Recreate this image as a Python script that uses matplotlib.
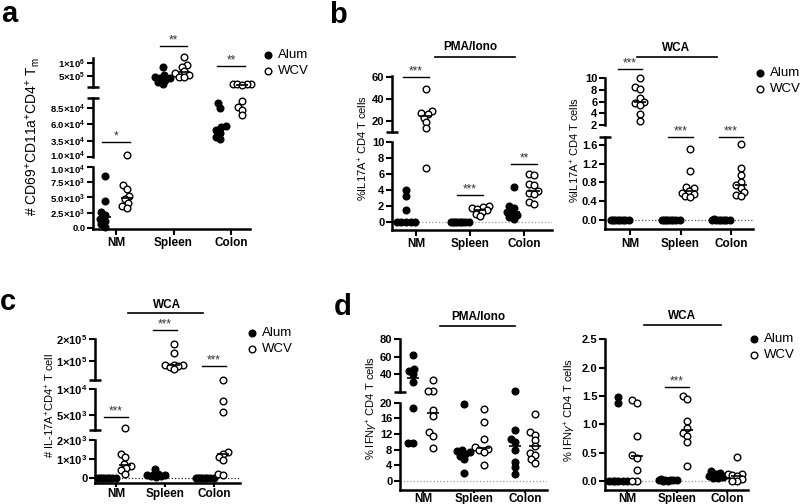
import numpy as np
import matplotlib
matplotlib.use('Agg')
import matplotlib.pyplot as plt
from matplotlib.lines import Line2D
from matplotlib.transforms import ScaledTranslation

plt.rcParams['font.family'] = ['Liberation Sans', 'DejaVu Sans']
plt.rcParams['mathtext.fontset'] = 'custom'
plt.rcParams['mathtext.rm'] = 'Liberation Sans'
plt.rcParams['mathtext.it'] = 'Liberation Sans:italic'
plt.rcParams['mathtext.bf'] = 'Liberation Sans:bold'

## data
groups = ['NM', 'Spleen', 'Colon']

# a : # CD69+CD11a+CD4+ Tm
a_alum = [[8.6e3, 4.4e3, 2.7e3, 2.2e3, 1.5e3, 1.2e3, 0.6e3, 0.1e3],
          [8.5e5, 5.5e5, 4.8e5, 4.4e5, 4.2e5, 3.5e5, 2.5e5, 1.8e5],
          [9.2e4, 8.5e4, 5.8e4, 5.5e4, 5.1e4, 4.6e4, 4.1e4, 3.7e4]]
a_wcv = [[1.3e4, 7.0e3, 6.4e3, 5.2e3, 4.7e3, 4.1e3, 3.6e3, 3.3e3],
         [1.22e6, 9.2e5, 8.5e5, 6.8e5, 6.0e5, 5.2e5, 4.8e5, 4.6e5],
         [2.0e5, 1.9e5, 1.8e5, 1.8e5, 1.7e5, 9.5e4, 8.7e4, 8.2e4, 7.4e4]]
a_sig = [(0, 3.3e4, '*'), (1, 1.65e6, '**'), (2, 8.8e5, '**')]

# b : %IL17A+ CD4 T cells, PMA/Iono
b1_alum = [[4.0, 3.2, 1.5, 0, 0, 0, 0, 0],
           [0, 0, 0, 0, 0, 0, 0, 0],
           [4.4, 2.0, 1.8, 1.3, 1.1, 0.9, 0.6, 0.4]]
b1_wcv = [[49, 29, 27, 26, 23, 19, 13.5, 6.7],
          [2.0, 1.9, 1.8, 1.6, 1.5, 1.3, 1.0, 0.7],
          [6.0, 5.9, 4.8, 4.6, 3.9, 3.6, 3.5, 2.5, 2.3]]
b1_sig = [(0, 59.5, '***'), (1, 3.4, '***'), (2, 7.25, '**')]

# b : %IL17A+ CD4 T cells, WCA
b2_alum = [[0, 0, 0, 0, 0, 0, 0, 0],
           [0, 0, 0, 0, 0, 0, 0, 0],
           [0.03, 0, 0, 0, 0, 0, 0, 0]]
b2_wcv = [[10.0, 8.4, 8.1, 6.6, 6.0, 5.7, 5.4, 3.9, 2.7],
          [1.52, 1.04, 0.70, 0.68, 0.62, 0.58, 0.56, 0.50, 0.48],
          [1.62, 1.10, 0.96, 0.82, 0.74, 0.68, 0.60, 0.53, 0.52]]
b2_sig = [(0, 11.5, '***'), (1, 1.77, '***'), (2, 1.77, '***')]

# c : # IL-17A+CD4+ T cell, WCA
c_alum = [[0, 0, 0, 0, 0, 0, 0, 0],
          [470, 250, 200, 180, 150, 120, 100, 50],
          [0, 0, 0, 0, 0, 0, 0, 0]]
c_wcv = [[2.4e3, 1.25e3, 1.1e3, 750, 620, 520, 420, 250],
         [1.8e5, 1.35e5, 8.2e4, 8.0e4, 7.8e4, 7.6e4, 7.2e4, 6.0e4],
         [1.2e4, 7.7e3, 5.5e3, 1.35e3, 1.25e3, 1.1e3, 950, 220, 150]]
c_sig = [(0, 4.7e3, '***'), (1, 2.43e5, '***'), (2, 7.7e4, '***')]

# d : % IFNg+ CD4 T cells, PMA/Iono
d1_alum = [[61.8, 46, 43.7, 40.3, 31, 18.6, 9.7, 9.8],
           [19.7, 7.8, 7.6, 7.4, 7.0, 6.5, 5.6, 2.1],
           [21.0, 13.1, 10.6, 10.0, 7.9, 4.9, 3.6, 1.8]]
d1_wcv = [[33.6, 21.1, 21.1, 18.2, 16.5, 12.4, 11.6, 8.4],
          [18.4, 15.0, 10.6, 8.6, 8.3, 7.8, 7.4, 4.0],
          [17.0, 12.4, 11.8, 10.4, 9.0, 7.2, 6.6, 5.5, 4.7]]

# d : % IFNg+ CD4 T cells, WCA
d2_alum = [[1.49, 1.37, 0, 0, 0, 0, 0, 0],
           [0.03, 0.02, 0.02, 0.01, 0.01, 0.01, 0, 0],
           [0.17, 0.14, 0.12, 0.10, 0.08, 0.07, 0.06, 0.05]]
d2_wcv = [[1.42, 1.37, 0.79, 0.46, 0.41, 0.19, 0, 0],
          [1.50, 1.44, 1.06, 0.94, 0.85, 0.79, 0.68, 0.26],
          [0.43, 0.13, 0.12, 0.10, 0.09, 0.03, 0, 0]]
d2_sig = [(1, 1.66, '***')]


def sci(m, e):
    return r'$\mathbf{%s{\times}10^{%d}}$' % (m, e)


W, H = 800, 504
fig = plt.figure(figsize=(W / 100, H / 100), dpi=100)
OFF = 0.19


def panel(x0, x1, xlim, segs, zero=None, tsize=8, xtick=4, xpad=2, nudge=0):
    axes, lims = [], []
    n = len(segs)
    for k, (yt, yb, lim, ticks, labels) in enumerate(segs):
        ax = fig.add_axes([x0 / W, 1 - yb / H, (x1 - x0) / W, (yb - yt) / H])
        ax.set_xlim(xlim)
        ax.set_ylim(lim)
        ax.patch.set_visible(False)
        ax.spines[['top', 'right']].set_visible(False)
        ax.spines['left'].set_linewidth(1.8)
        ax.set_yticks(ticks, labels, fontsize=tsize, fontweight='bold')
        ax.tick_params(axis='y', length=4, width=1.5, pad=1.5)
        # labels sitting on a break are pushed slightly away from it
        if nudge:
            for t, lab in zip(ticks, ax.get_yticklabels()):
                dy = 0
                if k > 0 and t == lim[1]:
                    dy = -nudge
                if k < n - 1 and t == lim[0]:
                    dy = nudge
                if dy:
                    lab.set_transform(lab.get_transform() +
                                      ScaledTranslation(0, dy / 72, fig.dpi_scale_trans))
        caps = []
        if k > 0:
            caps.append(lim[1])
        if k < n - 1:
            caps.append(lim[0])
        ax.set_yticks(caps, minor=True)
        ax.tick_params(axis='y', which='minor', direction='inout', length=8, width=1.8)
        if k < n - 1:
            ax.spines['bottom'].set_visible(False)
            ax.set_xticks([])
        else:
            ax.spines['bottom'].set_linewidth(1.8)
            ax.set_xticks(range(3), groups, fontsize=8.5, fontweight='bold')
            ax.tick_params(axis='x', length=xtick, width=1.5, pad=xpad)
        axes.append(ax)
        lims.append(lim)
    if zero:
        axes[-1].axhline(0, ls=':', color=zero, lw=0.9, zorder=1)
    return axes, lims


def pick(lims, v):
    for k in range(len(lims) - 1, -1, -1):
        if lims[k][0] <= v <= lims[k][1]:
            return k
    return 0


def swarm(py, d=5.0, wmax=9.0):
    order = np.argsort(py)
    cand = sorted(np.arange(-wmax, wmax + 0.01, 0.5), key=abs)
    placed = []
    offs = np.zeros(len(py))
    for i in order:
        best, bestd = 0.0, -1.0
        for c in cand:
            md = min([np.hypot(c - ox, py[i] - oy) for ox, oy in placed], default=99)
            if md >= d:
                best = c
                break
            if md > bestd:
                best, bestd = c, md
        offs[i] = best
        placed.append((best, py[i]))
    return offs


def group(axes, lims, xc, vals, filled):
    vals = np.asarray(vals, float)
    seg = [pick(lims, v) for v in vals]
    py = np.array([axes[s].transData.transform((xc, v))[1] for s, v in zip(seg, vals)])
    offs = swarm(py)
    ax0 = axes[-1]
    ppu = ax0.transData.transform((1, 0))[0] - ax0.transData.transform((0, 0))[0]
    for s, v, o in zip(seg, vals, offs):
        axes[s].plot(xc + o / ppu, v, 'o', ms=4.8, mfc='k' if filled else 'white',
                     mec='k', mew=1.0, clip_on=False, zorder=3)
    med = np.median(vals)
    s = pick(lims, med)
    axes[s].plot([xc - 6 / ppu, xc + 6 / ppu], [med, med], color='k', lw=1.2,
                 zorder=4, clip_on=False, solid_capstyle='butt')


def fill(axes, lims, alum, wcv, sig=()):
    for i in range(3):
        group(axes, lims, i - OFF, alum[i], True)
        group(axes, lims, i + OFF, wcv[i], False)
    for i, y, txt in sig:
        ax = axes[pick(lims, y)]
        ax.plot([i - 0.24, i + 0.24], [y, y], color='k', lw=1.0, clip_on=False)
        ax.annotate(txt, (i, y), xytext=(0, -0.5), textcoords='offset points',
                    ha='center', va='bottom', fontsize=8.5, color='#333333',
                    annotation_clip=False)


def P(x, y):
    return x / W, 1 - y / H


def header(txt, xc, yt, xa, xb, yl):
    fig.text(*P(xc, yt), txt, ha='center', va='center', fontsize=8.5, fontweight='bold')
    fig.add_artist(Line2D([xa / W, xb / W], [1 - yl / H] * 2, color='k', lw=1.2,
                          transform=fig.transFigure))


def legend(x, y):
    for k, (lab, fc) in enumerate([('Alum', 'k'), ('WCV', 'white')]):
        xx, yy = P(x, y + 16 * k)
        fig.add_artist(Line2D([xx], [yy], marker='o', ms=4.8, mfc=fc, mec='k', mew=1.0,
                              transform=fig.transFigure))
        fig.text(xx + 10 / W, yy, lab, fontsize=9.5, va='center')


def ylabel(txt, x, y, size=8):
    fig.text(*P(x, y), txt, rotation=90, ha='center', va='center', fontsize=size)


## panel a
ax_a, lim_a = panel(93, 250, (-0.40, 2.33), [
    (58, 87, (7.69e4, 1.192e6), [5e5, 1e6], [sci('5', 5), sci('1', 6)]),
    (98, 157, (1e4, 1e5), [1e4, 3.5e4, 6e4, 8.5e4],
     [sci('1.0', 4), sci('3.5', 4), sci('6.0', 4), sci('8.5', 4)]),
    (167, 229, (-164, 1e4), [0, 2.5e3, 5e3, 7.5e3, 1e4],
     ['0.0', sci('2.5', 3), sci('5.0', 3), sci('7.5', 3), sci('1.0', 4)]),
], tsize=6.8, nudge=1.2)
fill(ax_a, lim_a, a_alum, a_wcv, a_sig)
ylabel(r'# CD69$^{+}$CD11a$^{+}$CD4$^{+}$ T$_{\mathrm{m}}$', 33, 137, 10)
legend(268, 55)

## panel b, PMA/Iono
ax_b1, lim_b1 = panel(392, 552, (-0.444, 2.52), [
    (76, 132, (10, 60.6), [20, 40, 60], ['20', '40', '60']),
    (142, 230, (-1, 10), [0, 2, 4, 6, 8, 10], ['0', '2', '4', '6', '8', '10']),
], zero='#999999')
fill(ax_b1, lim_b1, b1_alum, b1_wcv, b1_sig)
ylabel(r'%IL17A$^{+}$ CD4 T cells', 363, 148)
header('PMA/Iono', 470, 47, 435, 515, 57)

## panel b, WCA
ax_b2, lim_b2 = panel(605, 753, (-0.495, 2.435), [
    (78, 125, (2, 10), [2, 4, 6, 8, 10], ['2', '4', '6', '8', '10']),
    (136.7, 229.3, (-0.2, 1.776), [0, 0.4, 0.8, 1.2, 1.6], ['0.0', '0.4', '0.8', '1.2', '1.6']),
], zero='#555555')
fill(ax_b2, lim_b2, b2_alum, b2_wcv, b2_sig)
ylabel(r'%IL17A$^{+}$ CD4 T cells', 575, 150)
header('WCA', 676, 48, 637, 717, 56.7)
legend(760, 73)

## panel c
ax_c, lim_c = panel(95, 240, (-0.43, 2.53), [
    (339.3, 380, (1e4, 2e5), [1e5, 2e5], [sci('1', 5), sci('2', 5)]),
    (389.3, 430, (2.1e3, 1e4), [5e3, 1e4], [sci('5', 3), sci('1', 4)]),
    (440, 482.7, (-230, 2e3), [0, 1e3, 2e3], ['0', sci('1', 3), sci('2', 3)]),
], zero='#222222', xtick=3, xpad=1)
fill(ax_c, lim_c, c_alum, c_wcv, c_sig)
ylabel(r'# IL-17A$^{+}$CD4$^{+}$ T cell', 50, 405)
header('WCA', 167, 305, 128, 203, 313.3)
legend(252, 333)

## panel d, PMA/Iono
ax_d1, lim_d1 = panel(400, 547, (-0.45, 2.43), [
    (339, 391.7, (20.3, 80), [40, 60, 80], ['40', '60', '80']),
    (402.7, 490, (-2.3, 20), [0, 4, 8, 12, 16, 20], ['0', '4', '8', '12', '16', '20']),
], zero='#999999', xtick=2, xpad=0)
fill(ax_d1, lim_d1, d1_alum, d1_wcv)
ylabel(r'% IFN$\gamma^{+}$ CD4 T cells', 372, 408)
header('PMA/Iono', 478, 317, 440, 515, 326)

## panel d, WCA
ax_d2, lim_d2 = panel(605, 748, (-0.44, 2.42), [
    (339.3, 490, (-0.16, 2.5), [0, 0.5, 1, 1.5, 2, 2.5], ['0.0', '0.5', '1.0', '1.5', '2.0', '2.5']),
], zero='#999999', xtick=2, xpad=0)
fill(ax_d2, lim_d2, d2_alum, d2_wcv, d2_sig)
ylabel(r'% IFN$\gamma^{+}$ CD4 T cells', 570, 410)
header('WCA', 682, 316, 644, 721, 325)
legend(754, 339)

## panel letters
for txt, x, y in [('a', 9, 22), ('b', 338, 23), ('c', 8, 310), ('d', 343, 315)]:
    fig.text(*P(x, y), txt, ha='center', va='baseline', fontsize=21, fontweight='bold')

fig.savefig('out.png', dpi=100)
